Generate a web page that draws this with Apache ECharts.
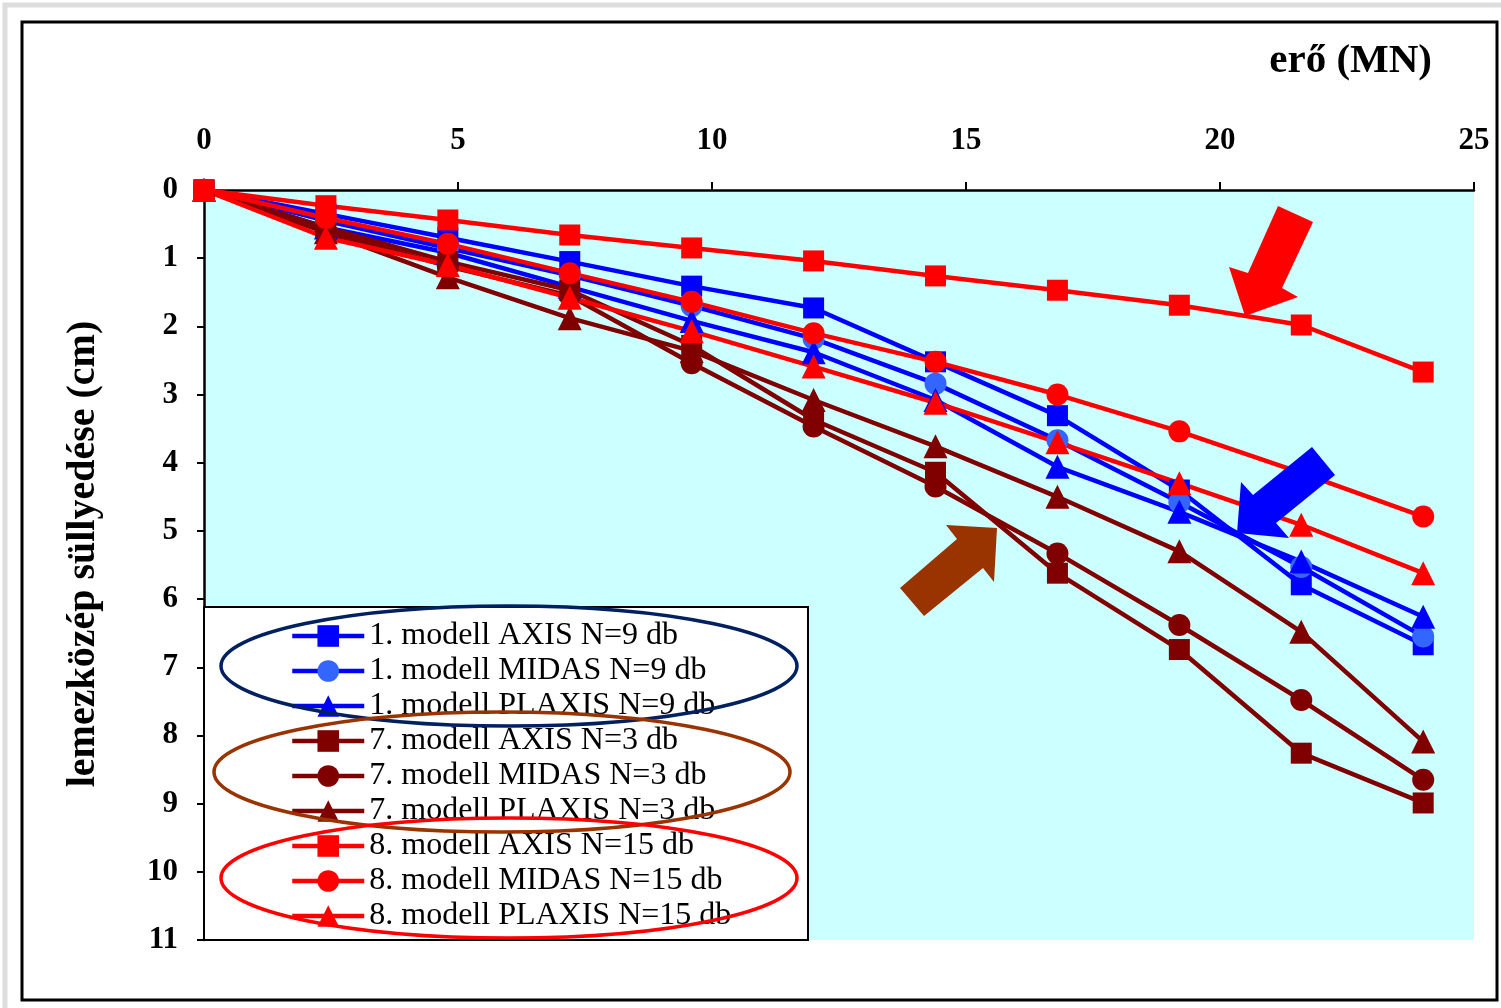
<!DOCTYPE html>
<html>
<head>
<meta charset="utf-8">
<script src="https://cdn.jsdelivr.net/npm/echarts@6/dist/echarts.min.js"></script>
<style>
  html, body { margin: 0; padding: 0; background: #fff; }
  #chart { width: 1501px; height: 1008px; }
</style>
</head>
<body>
<div id="chart"></div>
<script>
// erő (MN)
const forces = [0, 2.4, 4.8, 7.2, 9.6, 12, 14.4, 16.8, 19.2, 21.6, 24];
const xTicks = [0, 5, 10, 15, 20, 25];

// lemezközép süllyedése (cm)
const m1Axis   = [0, 0.35, 0.70, 1.05, 1.41, 1.73, 2.52, 3.31, 4.40, 5.79, 6.67];
const m1Midas  = [0, 0.45, 0.85, 1.25, 1.70, 2.18, 2.84, 3.67, 4.58, 5.53, 6.55];
const m1Plaxis = [0, 0.55, 0.92, 1.42, 1.92, 2.38, 3.08, 4.06, 4.72, 5.45, 6.26];
const m7Axis   = [0, 0.55, 1.05, 1.47, 2.28, 3.37, 4.14, 5.62, 6.74, 8.26, 8.99];
const m7Midas  = [0, 0.60, 1.12, 1.55, 2.54, 3.47, 4.35, 5.33, 6.38, 7.48, 8.65];
const m7Plaxis = [0, 0.62, 1.28, 1.88, 2.36, 3.08, 3.76, 4.50, 5.30, 6.48, 8.09];
const m8Axis   = [0, 0.23, 0.44, 0.66, 0.85, 1.04, 1.26, 1.47, 1.69, 1.98, 2.67];
const m8Midas  = [0, 0.41, 0.79, 1.22, 1.64, 2.10, 2.52, 3.00, 3.54, 4.15, 4.79];
const m8Plaxis = [0, 0.70, 1.10, 1.58, 2.07, 2.59, 3.12, 3.70, 4.30, 4.91, 5.62];

const seriesNames = [
  "1. modell AXIS N=9 db", "1. modell MIDAS N=9 db", "1. modell PLAXIS N=9 db",
  "7. modell AXIS N=3 db", "7. modell MIDAS N=3 db", "7. modell PLAXIS N=3 db",
  "8. modell AXIS N=15 db", "8. modell MIDAS N=15 db", "8. modell PLAXIS N=15 db"
];
const seriesValues = [m1Axis, m1Midas, m1Plaxis, m7Axis, m7Midas, m7Plaxis, m8Axis, m8Midas, m8Plaxis];

const BLUE = "#0000FF", DARK = "#800000", RED = "#FF0000";
const styles = [
  { line: BLUE, fill: BLUE, symbol: "rect", size: 21 },
  { line: BLUE, fill: "#3366FF", symbol: "circle", size: 22 },
  { line: BLUE, fill: BLUE, symbol: "triangle", size: 24 },
  { line: DARK, fill: DARK, symbol: "rect", size: 21 },
  { line: DARK, fill: DARK, symbol: "circle", size: 22 },
  { line: DARK, fill: DARK, symbol: "triangle", size: 24 },
  { line: RED, fill: RED, symbol: "rect", size: 21 },
  { line: RED, fill: RED, symbol: "circle", size: 22 },
  { line: RED, fill: RED, symbol: "triangle", size: 24 }
];

const SERIF = "'Liberation Serif', 'Times New Roman', serif";

const chart = echarts.init(document.getElementById("chart"));

const series = seriesNames.map((name, i) => ({
  name: name,
  type: "line",
  data: forces.map((f, j) => [f, seriesValues[i][j]]),
  symbol: styles[i].symbol,
  symbolSize: styles[i].size,
  lineStyle: { color: styles[i].line, width: 4.5 },
  itemStyle: { color: styles[i].fill, borderWidth: 0 },
  animation: false
}));

// nyilak és ellipszisek
const arrow = (pts, color) => ({
  type: "polygon", z: 100,
  shape: { points: pts },
  style: { fill: color }
});
const ring = (cx, cy, color) => ({
  type: "ellipse", z: 100,
  shape: { cx: cx, cy: cy, rx: 288, ry: 60 },
  style: { fill: null, stroke: color, lineWidth: 3.5 }
});

const option = {
  animation: false,
  backgroundColor: "#fff",
  title: {
    text: "erő (MN)",
    right: 64, top: 36,
    textStyle: { fontFamily: SERIF, fontWeight: "bold", fontSize: 41, color: "#000" }
  },
  grid: {
    left: 204, top: 190, right: 27, bottom: 68,
    show: true, backgroundColor: "#CCFFFF", borderWidth: 0
  },
  xAxis: {
    type: "value", position: "top",
    min: xTicks[0], max: xTicks[xTicks.length - 1], interval: 5,
    axisLine: { lineStyle: { color: "#000", width: 2.5 } },
    axisTick: { length: 8, lineStyle: { color: "#000", width: 2 } },
    splitLine: { show: false },
    axisLabel: { margin: 34, fontFamily: SERIF, fontWeight: "bold", fontSize: 31, color: "#000" }
  },
  yAxis: {
    type: "value", inverse: true,
    min: 0, max: 11, interval: 1,
    name: "lemezközép süllyedése (cm)",
    nameLocation: "middle", nameGap: 100, nameRotate: 90,
    nameTextStyle: { fontFamily: SERIF, fontWeight: "bold", fontSize: 40, color: "#000", padding: [0, 0, 0, 22] },
    axisLine: { lineStyle: { color: "#000", width: 2.5 } },
    axisTick: { length: 7, lineStyle: { color: "#000", width: 2 } },
    splitLine: { show: false },
    axisLabel: { margin: 26, fontFamily: SERIF, fontWeight: "bold", fontSize: 31, color: "#000" }
  },
  legend: {
    orient: "vertical",
    left: 290, top: 620,
    padding: 0,
    itemWidth: 72, itemHeight: 27, itemGap: 3,
    data: seriesNames,
    lineStyle: { width: 4.5 },
    textStyle: { fontFamily: SERIF, fontSize: 32, color: "#000" }
  },
  graphic: [
    { type: "rect", z: -10, shape: { x: 5, y: 5, width: 1500, height: 1010 },
      style: { fill: null, stroke: "#dddddd", lineWidth: 5 } },
    { type: "rect", z: -10, shape: { x: 22, y: 22, width: 1475, height: 978 },
      style: { fill: null, stroke: "#000", lineWidth: 3 } },
    { type: "rect", z: 3, shape: { x: 204, y: 607, width: 604, height: 333 },
      style: { fill: "#fff", stroke: "#000", lineWidth: 2 } },
    ring(509, 666, "#002060"),
    ring(502, 772, "#993300"),
    ring(509, 878, "#FF0000"),
    arrow([[1278, 206], [1313, 222], [1282, 288], [1298, 297], [1245, 316], [1229, 267], [1248, 273]], RED),
    arrow([[1312, 447], [1335, 475], [1276, 523], [1289, 538], [1237, 533], [1241, 482], [1253, 495]], BLUE),
    arrow([[997, 528], [994, 582], [983, 568], [924, 616], [900, 588], [957, 539], [946, 525]], "#993300")
  ],
  series: series
};

chart.setOption(option);
</script>
</body>
</html>
